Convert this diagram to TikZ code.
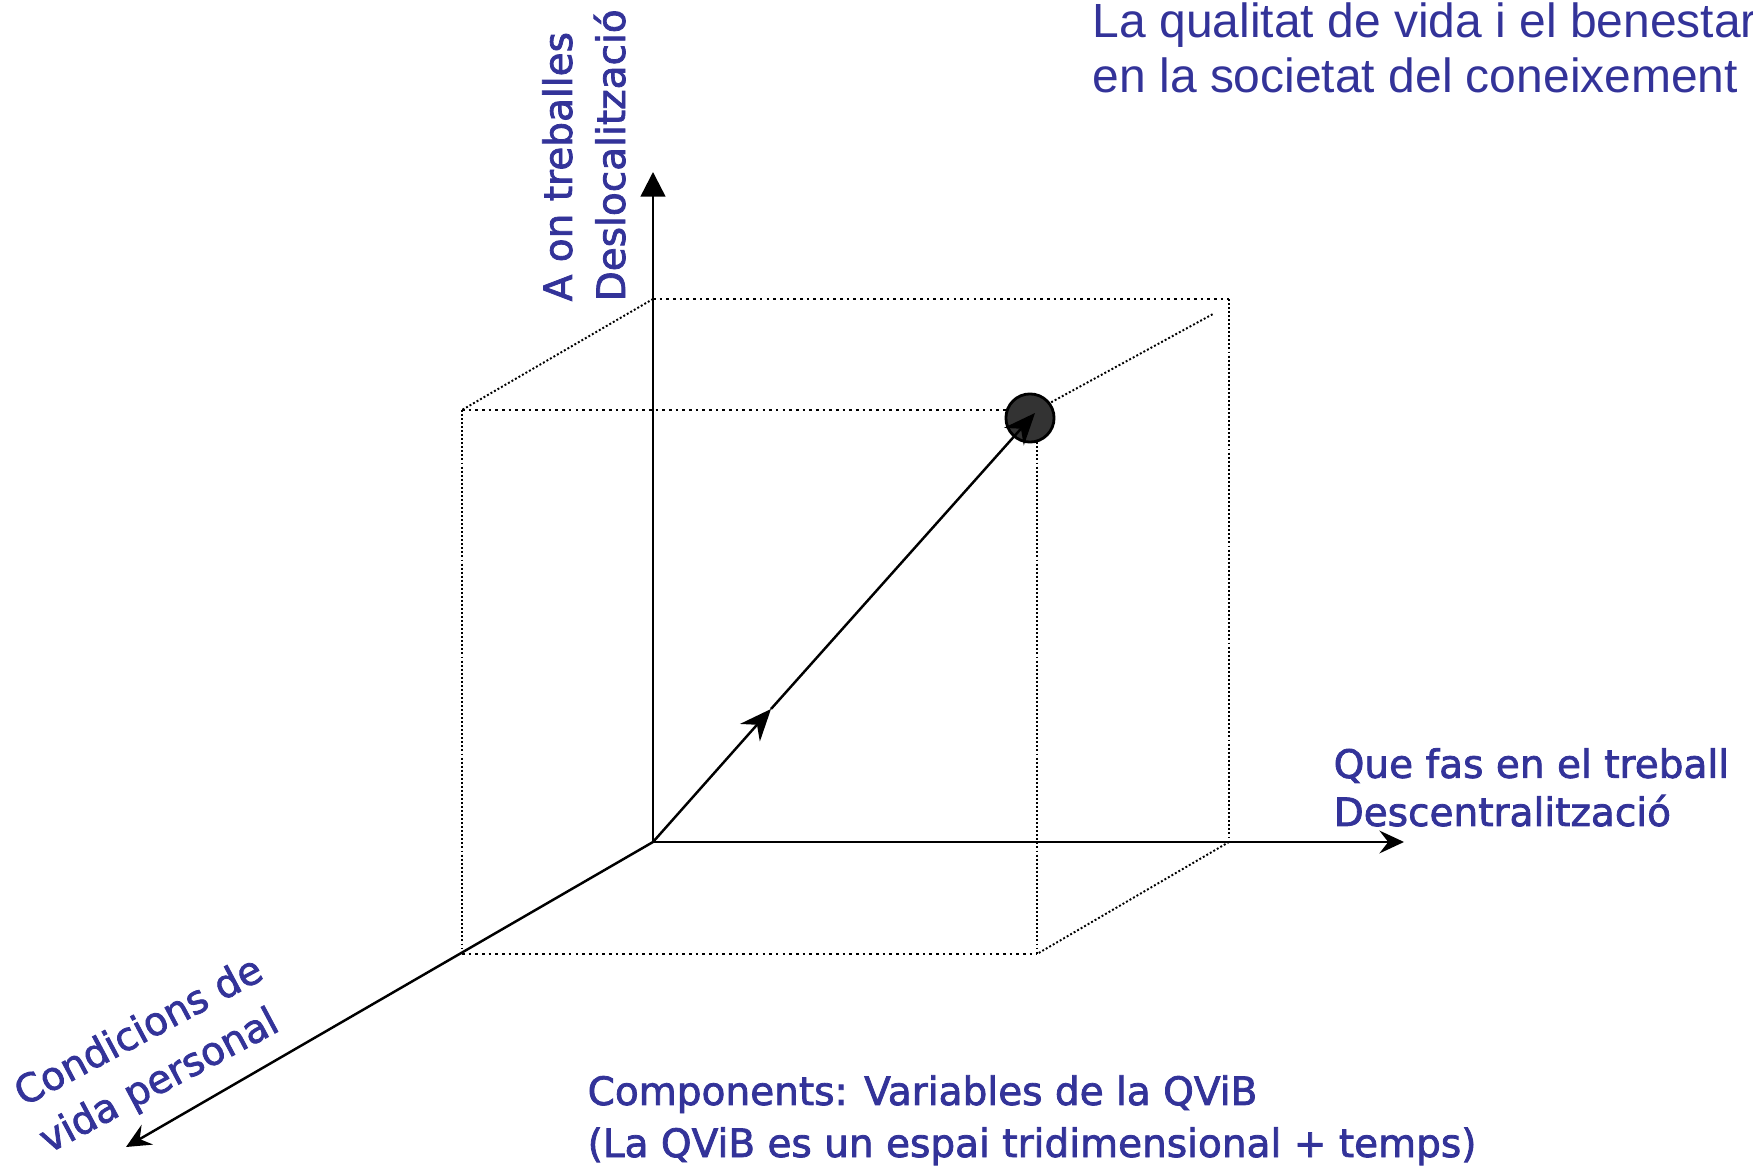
\documentclass[tikz,border=0pt]{standalone}
\usepackage{fontspec}
\setmainfont{DejaVu Sans}
\newfontfamily\labelfont[FakeBold=2]{DejaVu Sans}
\newfontfamily\titlefont{Liberation Sans}
\usetikzlibrary{arrows.meta}
\definecolor{labelblue}{RGB}{51,51,153}

\begin{document}
\begin{tikzpicture}[
		x=0.1mm, y=-0.1mm,
		axis/.style={line width=0.7pt},
		edgeh/.style={line width=0.75pt, dash pattern=on 0.75pt off 1.15pt},
		edgev/.style={line width=0.55pt, dash pattern=on 0.55pt off 0.6pt},
		vec/.style={line width=0.7pt, -{Stealth[length=9pt,width=7.5pt,inset=3pt]}},
		dotball/.style={circle, draw=black, line width=0.8pt, fill=black!80, minimum size=13.7pt, inner sep=0pt},
		lbl/.style={text=labelblue, inner sep=0pt, align=left, font=\labelfont\fontsize{11.1pt}{15.1pt}\selectfont}
	]
	\useasboundingbox (0,0) rectangle (1753,1166);

	% axes
	\coordinate (o)    at (653,842);
	\coordinate (ytip) at (653,172);
	\coordinate (xtip) at (1404,842);
	\coordinate (ztip) at (126,1147);

	% box corners (back and front faces)
	\coordinate (bTL) at (653,299);
	\coordinate (bTR) at (1229,299);
	\coordinate (bBR) at (1229,842);
	\coordinate (fTL) at (462,410);
	\coordinate (fTR) at (1037,410);
	\coordinate (fBL) at (462,954);
	\coordinate (fBR) at (1037,954);
	\coordinate (bTRend) at (1213,314);

	\foreach \from/\to in {
		bTL/bTR,
		fTL/fTR,
		fBL/fBR}
		\draw[edgeh] (\from) -- (\to);

	\foreach \from/\to in {
		bTR/bBR,
		fTL/fBL,
		fTR/fBR,
		bTL/fTL,
		bBR/fBR,
		fTR/bTRend}
		\draw[edgev] (\from) -- (\to);

	\draw[axis, -{Triangle[length=7pt,width=7pt]}] (o) -- (ytip);
	\draw[axis, -{Stealth[length=7pt,width=6.5pt,inset=2.5pt]}] (o) -- (xtip);
	\draw[axis, -{Stealth[length=7pt,width=6.5pt,inset=2.5pt]}] (o) -- (ztip);

	% point and its vector
	\node[dotball] (ball) at (1030,418) {};
	\coordinate (vmid) at (771,709);
	\coordinate (vend) at (1035,413);
	\draw[vec] (o) -- (vmid);
	\draw[vec] (vmid) -- (vend);

	% labels (anchored on the baseline of their last line)
	\node[lbl, anchor=base west, font=\titlefont\fontsize{13.65pt}{15.9pt}\selectfont] (title) at (1092,93)
		{La qualitat de vida i el benestar\\en la societat del coneixement};
	\node[lbl, rotate=90, anchor=base west] (ylbl) at (625,302) {A on treballes\\Deslocalització};
	\node[lbl, anchor=base west, font=\labelfont\fontsize{11.1pt}{13.7pt}\selectfont] (xlbl) at (1333,826)
		{Que fas en el treball\\Descentralització};
	\node[lbl, rotate=28, anchor=base west] (zlbl) at (48,1154) {Condicions de\\vida personal};
	\node[lbl, anchor=base west, font=\labelfont\fontsize{11.1pt}{14.8pt}\selectfont] (note) at (587,1157)
		{Components: Variables de la QViB\\(La QViB es un espai tridimensional + temps)};

\end{tikzpicture}
\end{document}
